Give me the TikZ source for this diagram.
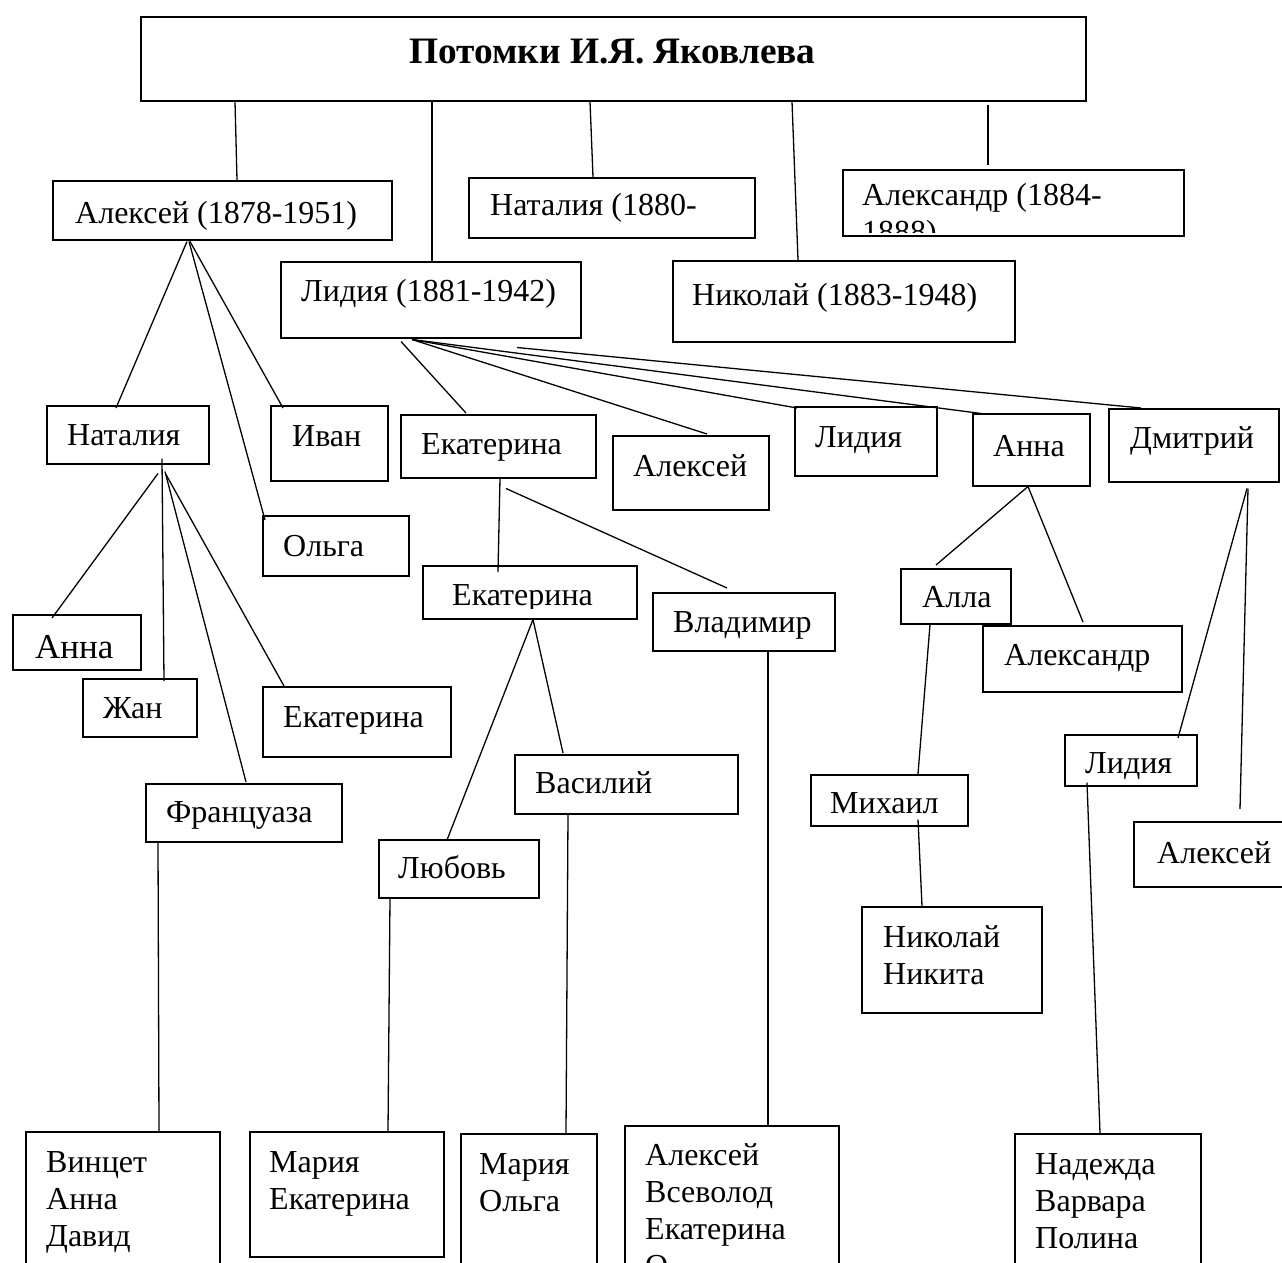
\documentclass[tikz,border=0pt]{standalone}
\usepackage{fontspec}
\setmainfont{Liberation Serif}
\usetikzlibrary{calc}
\newcommand\mybox[5]{\node[box,minimum width={#4pt-#2pt},minimum height={#5pt-#3pt}] (#1) at (#2,#3) {};}
\begin{document}
\begin{tikzpicture}[x=1pt,y=-1pt,
  box/.style={draw,line width=1.5pt,inner sep=0pt,anchor=north west,rectangle},
  lbl/.style={inner sep=0pt,anchor=base west,font=\fontsize{32}{37}\selectfont},
  link/.style={line width=1.3pt}]
\useasboundingbox (0,0) rectangle (1282,1262);
\fill[white] (0,0) rectangle (1282,1262);

% boxes
\mybox{title}{140}{16}{1085}{100}
\mybox{alexei}{52}{180}{391}{239}
\mybox{natalia1880}{468}{177}{754}{237}
\mybox{alexandr1884}{842}{169}{1183}{235}
\mybox{lidia1881}{280}{261}{580}{337}
\mybox{nikolai}{672}{260}{1014}{341}
\mybox{natalia}{46}{405}{208}{463}
\mybox{ivan}{270}{405}{387}{480}
\mybox{olga}{262}{515}{408}{575}
\mybox{ekat1}{400}{414}{595}{477}
\mybox{alexei2}{612}{435}{768}{509}
\mybox{lidia2}{794}{406}{936}{475}
\mybox{anna2}{972}{413}{1089}{485}
\mybox{dmitrii}{1108}{408}{1278}{481}
\mybox{anna1}{12}{614}{140}{669}
\mybox{zhan}{82}{678}{196}{736}
\mybox{ekatn}{262}{686}{450}{756}
\mybox{fransuaza}{145}{783}{341}{841}
\mybox{ekat2}{422}{565}{636}{618}
\mybox{vladimir}{652}{592}{834}{650}
\mybox{vasilii}{514}{754}{737}{813}
\mybox{lubov}{378}{839}{538}{897}
\mybox{alla}{900}{568}{1010}{623}
\mybox{alexandr2}{982}{625}{1181}{691}
\mybox{mikhail}{810}{774}{967}{825}
\mybox{nn}{861}{906}{1041}{1012}
\mybox{lidia3}{1064}{734}{1196}{785}
\mybox{alexei3}{1133}{821}{1295}{886}
\mybox{vinzet}{25}{1131}{219}{1300}
\mybox{mariaek}{249}{1131}{443}{1256}
\mybox{mariaolga}{460}{1133}{596}{1300}
\mybox{alexeivs}{624}{1125}{838}{1300}
\mybox{nadezhda}{1014}{1133}{1200}{1300}

% texts
\node[inner sep=0pt,anchor=base,font=\fontsize{37.3}{44}\selectfont\bfseries] (title-t) at (612.5,63) {Потомки И.Я. Яковлева};
\node[lbl] (alexei-t) at (75,223) {Алексей (1878-1951)};
\node[lbl] (natalia1880-t) at (490,215) {Наталия (1880-};
\begin{scope}
\clip (842,169) rectangle (1183,232);
\node[lbl] (alexandr1884-t) at (862,205) {\begin{tabular}[t]{@{}l@{}}Александр (1884-\\1888)\end{tabular}};
\end{scope}
\node[lbl] (lidia1881-t) at (301,301) {Лидия (1881-1942)};
\node[lbl] (nikolai-t) at (692,305) {Николай (1883-1948)};
\node[lbl] (natalia-t) at (67,445) {Наталия};
\node[lbl] (ivan-t) at (292,446) {Иван};
\node[lbl] (olga-t) at (283,556) {Ольга};
\node[lbl] (ekat1-t) at (421,454) {Екатерина};
\node[lbl] (alexei2-t) at (633,476) {Алексей};
\node[lbl] (lidia2-t) at (815,447) {Лидия};
\node[lbl] (anna2-t) at (993,456) {Анна};
\node[lbl] (dmitrii-t) at (1130,448) {Дмитрий};
\node[lbl,font=\fontsize{35}{40}\selectfont] (anna1-t) at (35,658) {Анна};
\node[lbl] (zhan-t) at (103,718) {Жан};
\node[lbl] (ekatn-t) at (283,727) {Екатерина};
\node[lbl] (fransuaza-t) at (166,822) {Француаза};
\begin{scope}
\clip (422,565) rectangle (636,608);
\node[lbl] (ekat2-t) at (452,605) {Екатерина};
\end{scope}
\node[lbl] (vladimir-t) at (673,632) {Владимир};
\node[lbl] (vasilii-t) at (535,793) {Василий};
\node[lbl] (lubov-t) at (398,878) {Любовь};
\node[lbl] (alla-t) at (922,607) {Алла};
\node[lbl] (alexandr2-t) at (1004,665) {Александр};
\node[lbl] (mikhail-t) at (830,813) {Михаил};
\node[lbl] (nn-t) at (883,947) {\begin{tabular}[t]{@{}l@{}}Николай\\Никита\end{tabular}};
\node[lbl] (lidia3-t) at (1085,773) {Лидия};
\node[lbl] (alexei3-t) at (1157,863) {Алексей};
\node[lbl] (vinzet-t) at (46,1172) {\begin{tabular}[t]{@{}l@{}}Винцет\\Анна\\Давид\end{tabular}};
\node[lbl] (mariaek-t) at (269,1172) {\begin{tabular}[t]{@{}l@{}}Мария\\Екатерина\end{tabular}};
\node[lbl] (mariaolga-t) at (479,1174) {\begin{tabular}[t]{@{}l@{}}Мария\\Ольга\end{tabular}};
\node[lbl] (alexeivs-t) at (645,1165) {\begin{tabular}[t]{@{}l@{}}Алексей\\Всеволод\\Екатерина\\О\end{tabular}};
\node[lbl] (nadezhda-t) at (1035,1174) {\begin{tabular}[t]{@{}l@{}}Надежда\\Варвара\\Полина\end{tabular}};

% connectors
\draw[link] ($(title.south west)+(95,0)$) -- ($(alexei.north west)+(185,0)$);
\draw[link] ($(title.south west)+(292,0)$) -- ($(lidia1881.north west)+(152,0)$);
\draw[link] ($(title.south west)+(450,0)$) -- ($(natalia1880.north west)+(125,0)$);
\draw[link] ($(title.south west)+(652,0)$) -- ($(nikolai.north west)+(126,0)$);
\draw[link] ($(title.south west)+(848,3)$) -- ($(alexandr1884.north west)+(146,-4)$);

\draw[link] ($(alexei.south west)+(135,1)$) -- ($(natalia.north west)+(70,3)$);
\draw[link] ($(alexei.south west)+(137,1)$) -- ($(olga.north west)+(3,5)$);
\draw[link] ($(alexei.south west)+(138,1)$) -- ($(ivan.north west)+(13,3)$);

\draw[link] ($(natalia.south west)+(112,9)$) -- ($(anna1.north west)+(40,4)$);
\draw[link] ($(natalia.south west)+(116,-6)$) -- ($(zhan.north west)+(82,3)$);
\draw[link] ($(natalia.south west)+(119,7)$) -- ($(fransuaza.north west)+(101,-1)$);
\draw[link] ($(natalia.south west)+(120,10)$) -- ($(ekatn.north west)+(22,0)$);

\draw[link] ($(lidia1881.south west)+(121,3)$) -- ($(ekat1.north west)+(66,-1)$);
\draw[link] ($(lidia1881.south west)+(132,1)$) -- ($(alexei2.north west)+(95,-1)$);
\draw[link] ($(lidia1881.south west)+(132,1)$) -- ($(lidia2.north west)+(3,2)$);
\draw[link] ($(lidia1881.south west)+(132,1)$) -- ($(anna2.north west)+(13,1)$);
\draw[link] ($(lidia1881.south west)+(237,9)$) -- ($(dmitrii.north west)+(33,0)$);

\draw[link] ($(ekat1.south west)+(100,0)$) -- ($(ekat2.north west)+(76,7)$);
\draw[link] ($(ekat1.south west)+(106,10)$) -- ($(vladimir.north west)+(75,-4)$);
\draw[link] ($(ekat2.south west)+(111,0)$) -- ($(lubov.north west)+(69,1)$);
\draw[link] ($(ekat2.south west)+(111,0)$) -- ($(vasilii.north west)+(49,-1)$);
\draw[link] ($(lubov.south west)+(12,0)$) -- ($(mariaek.north west)+(139,0)$);
\draw[link] ($(vasilii.south west)+(54,0)$) -- ($(mariaolga.north west)+(106,0)$);
\draw[link] ($(vladimir.south west)+(116,0)$) -- ($(alexeivs.north west)+(144,0)$);
\draw[link] ($(fransuaza.south west)+(13,0)$) -- ($(vinzet.north west)+(134,0)$);

\draw[link] ($(anna2.south west)+(56,0)$) -- ($(alla.north west)+(36,-3)$);
\draw[link] ($(anna2.south west)+(56,0)$) -- ($(alexandr2.north west)+(101,-3)$);
\draw[link] ($(alla.south west)+(30,0)$) -- ($(mikhail.north west)+(108,0)$);
\draw[link] ($(mikhail.south west)+(108,-7)$) -- ($(nn.north west)+(61,0)$);

\draw[link] ($(dmitrii.south west)+(139,6)$) -- ($(lidia3.north west)+(114,4)$);
\draw[link] ($(dmitrii.south west)+(140,6)$) -- ($(alexei3.north west)+(107,-12)$);
\draw[link] ($(lidia3.south west)+(23,-4)$) -- ($(nadezhda.north west)+(86,0)$);
\end{tikzpicture}
\end{document}
